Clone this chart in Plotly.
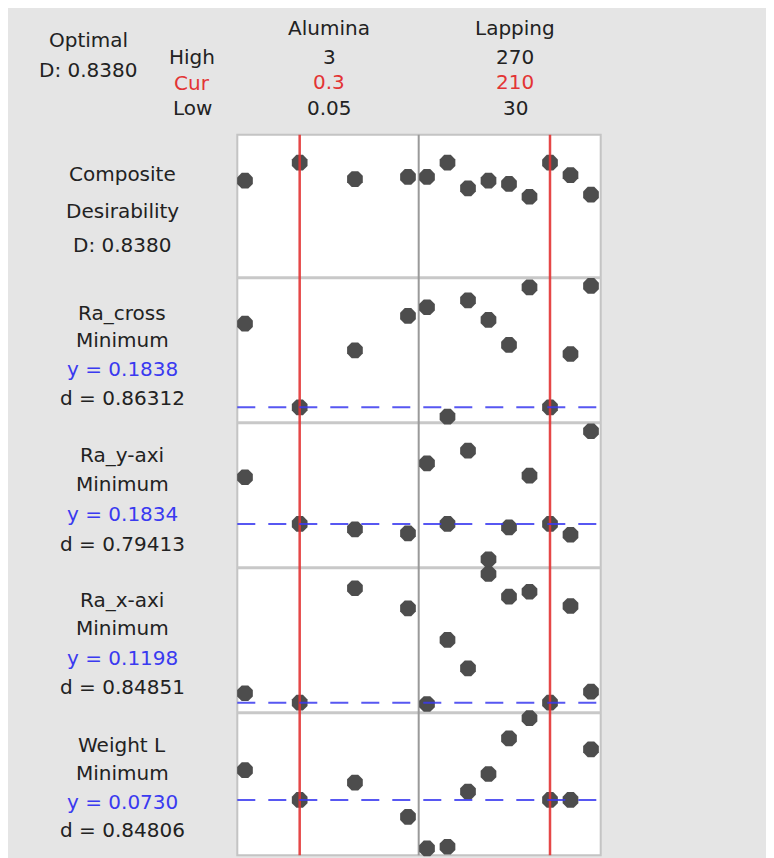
import plotly.graph_objects as go

W, H = 774, 858

# ---------------- data ----------------
alumina_levels = [0.05, 1.04, 2.04, 3.0]
lapping_levels = [30, 60, 90, 120, 150, 180, 210, 240, 270]

cur_alumina_pos = 1.04   # drawn position of the current-setting line
cur_lapping = 210

rows = ["Composite", "Ra_cross", "Ra_y-axi", "Ra_x-axi", "Weight L"]

comp_alumina = [0.707, 0.838, 0.719, 0.734]
comp_lapping = [0.734, 0.838, 0.651, 0.707, 0.683, 0.590, 0.838, 0.748, 0.605]

racross_alumina = [0.2588, 0.1838, 0.2349, 0.2657]
racross_lapping = [0.2735, 0.1754, 0.2797, 0.2621, 0.2397, 0.2914, 0.1838, 0.2316, 0.2926]

ray_alumina = [0.2188, 0.1834, 0.1793, 0.1763]
ray_lapping = [0.2294, 0.1834, 0.2390, 0.1566, 0.1808, 0.2200, 0.1834, 0.1752, 0.2537]

rax_alumina = [0.1276, 0.1198, 0.2145, 0.1979]
rax_lapping = [0.1187, 0.1717, 0.1482, 0.2263, 0.2075, 0.2116, 0.1198, 0.1998, 0.1289]

wl_alumina = [0.0855, 0.0730, 0.0803, 0.0659]
wl_lapping = [0.0526, 0.0533, 0.0765, 0.0839, 0.0989, 0.1074, 0.0730, 0.0730, 0.0943]

y_targets = [None, 0.1838, 0.1834, 0.1198, 0.0730]
y_ranges = [[0, 1.042], [0.17, 0.30], [0.1502, 0.2602], [0.1115, 0.2315], [0.0497, 0.1097]]

row_labels = [
    ["Composite", "Desirability", "D: 0.8380"],
    ["Ra_cross", "Minimum", "y = 0.1838", "d = 0.86312"],
    ["Ra_y-axi", "Minimum", "y = 0.1834", "d = 0.79413"],
    ["Ra_x-axi", "Minimum", "y = 0.1198", "d = 0.84851"],
    ["Weight L", "Minimum", "y = 0.0730", "d = 0.84806"],
]

factors = ["Alumina", "Lapping"]
high_vals = ["3", "270"]
cur_vals = ["0.3", "210"]
low_vals = ["0.05", "30"]

# ---------------- layout geometry (page pixels; the page has an 8px body margin) ----------------
OX, OY = 8, 8

def px(x):
    return (x - OX) / W

def py(y):
    return 1 - (y - OY) / H

left_x0, mid_x, right_x1 = 237.3, 418.7, 600.7
row_edges = [134.7, 277.7, 422.7, 567.7, 712.7, 855.3]

FONT = "DejaVu Sans"
FS = 20
TXT = "#222222"
RED = "#e33434"
BLUE = "#3a3af0"
DOT = "#4d4d4d"

fig = go.Figure()

series = [
    (comp_alumina, comp_lapping),
    (racross_alumina, racross_lapping),
    (ray_alumina, ray_lapping),
    (rax_alumina, rax_lapping),
    (wl_alumina, wl_lapping),
]

for r, (ya, yl) in enumerate(series):
    yname = "y" if r == 0 else f"y{r+1}"
    fig.add_trace(go.Scatter(x=alumina_levels, y=ya, xaxis="x", yaxis=yname, mode="markers",
                             marker=dict(symbol="octagon", size=17, color=DOT, line=dict(width=0)),
                             cliponaxis=False, showlegend=False, hoverinfo="skip"))
    fig.add_trace(go.Scatter(x=lapping_levels, y=yl, xaxis="x2", yaxis=yname, mode="markers",
                             marker=dict(symbol="octagon", size=17, color=DOT, line=dict(width=0)),
                             cliponaxis=False, showlegend=False, hoverinfo="skip"))

layout = dict(
    width=W, height=H,
    margin=dict(l=0, r=0, t=0, b=0),
    paper_bgcolor="#e5e5e5", plot_bgcolor="rgba(0,0,0,0)",
    showlegend=False,
    font=dict(family=FONT, size=FS, color=TXT),
)
layout["xaxis"] = dict(domain=[px(left_x0), px(mid_x)], range=[-0.089, 3.194], visible=False,
                       anchor="y5", fixedrange=True)
layout["xaxis2"] = dict(domain=[px(mid_x), px(right_x1)], range=[17.85, 284.2], visible=False,
                        anchor="y5", fixedrange=True)
for r in range(5):
    key = "yaxis" if r == 0 else f"yaxis{r+1}"
    layout[key] = dict(domain=[py(row_edges[r+1]), py(row_edges[r])], range=y_ranges[r],
                       visible=False, anchor="x", fixedrange=True)
fig.update_layout(**layout)

shapes = []
# white panel area
shapes.append(dict(type="rect", xref="paper", yref="paper", x0=px(left_x0), x1=px(right_x1),
                   y0=py(row_edges[-1]), y1=py(row_edges[0]),
                   fillcolor="white", line=dict(color="#c4c4c4", width=2), layer="below"))
# row dividers
for e in row_edges[1:-1]:
    shapes.append(dict(type="line", xref="paper", yref="paper", x0=px(left_x0), x1=px(right_x1),
                       y0=py(e), y1=py(e), line=dict(color="#c8c8c8", width=3), layer="below"))
# column divider
shapes.append(dict(type="line", xref="paper", yref="paper", x0=px(mid_x), x1=px(mid_x),
                   y0=py(row_edges[-1]), y1=py(row_edges[0]), line=dict(color="#9a9a9a", width=2),
                   layer="below"))
# current setting red lines
shapes.append(dict(type="line", xref="x", yref="paper", x0=cur_alumina_pos, x1=cur_alumina_pos,
                   y0=py(row_edges[-1]), y1=py(row_edges[0]), line=dict(color=RED, width=2.5),
                   layer="above", opacity=0.9))
shapes.append(dict(type="line", xref="x2", yref="paper", x0=cur_lapping, x1=cur_lapping,
                   y0=py(row_edges[-1]), y1=py(row_edges[0]), line=dict(color=RED, width=2.5),
                   layer="above", opacity=0.9))
# target y dashed lines
for r in range(1, 5):
    yref = f"y{r+1}"
    shapes.append(dict(type="line", xref="paper", yref=yref, x0=px(left_x0), x1=px(right_x1),
                       y0=y_targets[r], y1=y_targets[r],
                       line=dict(color=BLUE, width=2, dash="18px,13px"), layer="above", opacity=0.85))
fig.update_layout(shapes=shapes)

ann = []
def text(x, y, s, color=TXT, size=FS):
    ann.append(dict(x=px(x), y=py(y), xref="paper", yref="paper", text=s, showarrow=False,
                    xanchor="center", yanchor="middle", font=dict(family=FONT, size=size, color=color)))

# header
text(88, 40, "Optimal")
text(88, 70, "D: 0.8380")
text(192, 57, "High")
text(192, 83, "Cur", RED)
text(192, 108, "Low")
for cx, f, hi, cu, lo in zip([329, 515], factors, high_vals, cur_vals, low_vals):
    text(cx, 28, f)
    text(cx, 57, hi)
    text(cx, 82, cu, RED)
    text(cx, 108, lo)

# row labels
row_label_y = [
    [174, 211, 245],
    [313, 340, 369, 398],
    [455, 484, 514, 544],
    [600, 628, 658, 687],
    [745, 773, 802, 830],
]
for labels, ys in zip(row_labels, row_label_y):
    for s, yy in zip(labels, ys):
        col = BLUE if s.startswith("y =") else TXT
        text(122, yy, s, col)

fig.update_layout(annotations=ann)
fig.write_html("out.html")
